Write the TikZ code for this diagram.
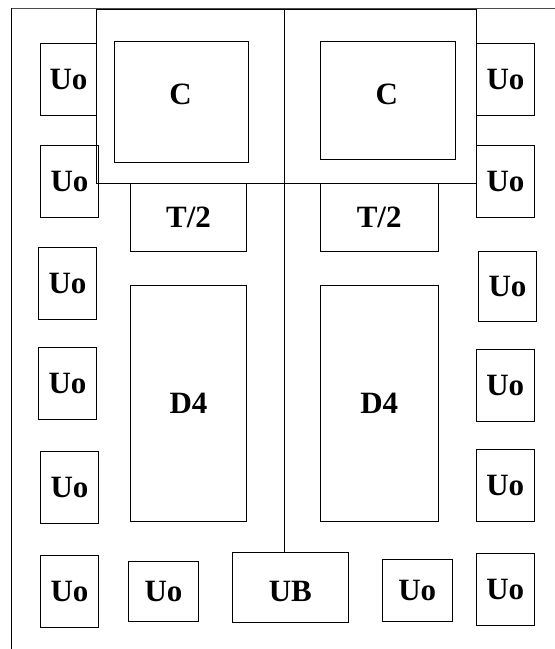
\documentclass[tikz,border=0pt]{standalone}
\usepackage{fontspec}
\setmainfont{Liberation Serif}
\usetikzlibrary{positioning, calc}
\tikzset{
  every picture/.style={line cap=rect, line join=miter},
  blk/.style={draw=black, line width=0.9pt, inner sep=0pt, font=\fontsize{31}{33}\selectfont\bfseries},
  lbl/.style={inner sep=0pt, font=\fontsize{31}{33}\selectfont\bfseries},
  wire/.style={black, line width=0.9pt},
}

\begin{document}
\begin{tikzpicture}[x=1pt, y=-1pt]
  \useasboundingbox (0,0) rectangle (555,649);
  % border lines, top and left
  \coordinate (tl) at (11,8.5);
  \coordinate (tr) at (555,8.5);
  \coordinate (bl) at (11,649);
  \draw[wire, black!70] (tl) -- (tr);
  \draw[wire] (tl) -- (bl);
  % core frame split in two halves
  \node[blk, minimum width=380.2pt, minimum height=173.5pt] (frame) at (286.6,96.25) {};
  % core blocks
  \node[blk, minimum width=134pt, minimum height=120.6pt] (cL) at (181.3,102) {};
  \node[lbl] (cLt) at (180.5,94) {C};
  \node[blk, minimum width=135pt, minimum height=117.6pt] (cR) at (387.5,100.5) {};
  \node[lbl] (cRt) at (386.7,94) {C};
  \node[blk, minimum width=116.4pt, minimum height=68.7pt] (tL) at (188.5,217.3) {T/2};
  \node[blk, minimum width=118.3pt, minimum height=68.7pt] (tR) at (379.2,217.3) {T/2};
  \node[blk, minimum width=116.4pt, minimum height=235.3pt] (dL) at (188.5,403.3) {D4};
  \node[blk, minimum width=118.3pt, minimum height=235.3pt] (dR) at (379.2,403.3) {D4};
  % bus at the bottom
  \node[blk, minimum width=116pt, minimum height=70pt] (ub) at (290.3,587.7) {};
  \node[lbl] (ubt) at (290.3,591) {UB};
  \coordinate (mid) at (284.3,9.5);
  \draw[wire] (mid) -- (mid |- ub.north);
  % left column
  \node[blk, minimum width=56pt, minimum height=71.6pt] (uoL1) at (68.5,79.5) {Uo};
  \node[blk, minimum width=58.4pt, minimum height=71.6pt] (uoL2) at (69.5,181.5) {Uo};
  \node[blk, minimum width=58.4pt, minimum height=72pt] (uoL3) at (67.5,283.3) {Uo};
  \node[blk, minimum width=58.4pt, minimum height=72pt] (uoL4) at (67.5,383.3) {Uo};
  \node[blk, minimum width=58.4pt, minimum height=71.3pt] (uoL5) at (69.5,487.3) {Uo};
  \node[blk, minimum width=58.4pt, minimum height=72pt] (uoL6) at (69.5,591.3) {Uo};
  % bottom row
  \node[blk, minimum width=70.4pt, minimum height=59.7pt] (uoB1) at (163.5,591.2) {Uo};
  \node[blk, minimum width=70pt, minimum height=61.7pt] (uoB2) at (417.3,590.2) {Uo};
  % right column
  \node[blk, minimum width=57.6pt, minimum height=71.6pt] (uoR1) at (505.5,79.5) {Uo};
  \node[blk, minimum width=57.6pt, minimum height=71.6pt] (uoR2) at (505.5,181.5) {Uo};
  \node[blk, minimum width=58.4pt, minimum height=69.3pt] (uoR3) at (507.5,286.3) {Uo};
  \node[blk, minimum width=58pt, minimum height=72pt] (uoR4) at (505.3,385.3) {Uo};
  \node[blk, minimum width=58pt, minimum height=71.7pt] (uoR5) at (505.3,485.2) {Uo};
  \node[blk, minimum width=58pt, minimum height=71.7pt] (uoR6) at (505.3,589.2) {Uo};
\end{tikzpicture}
\end{document}
